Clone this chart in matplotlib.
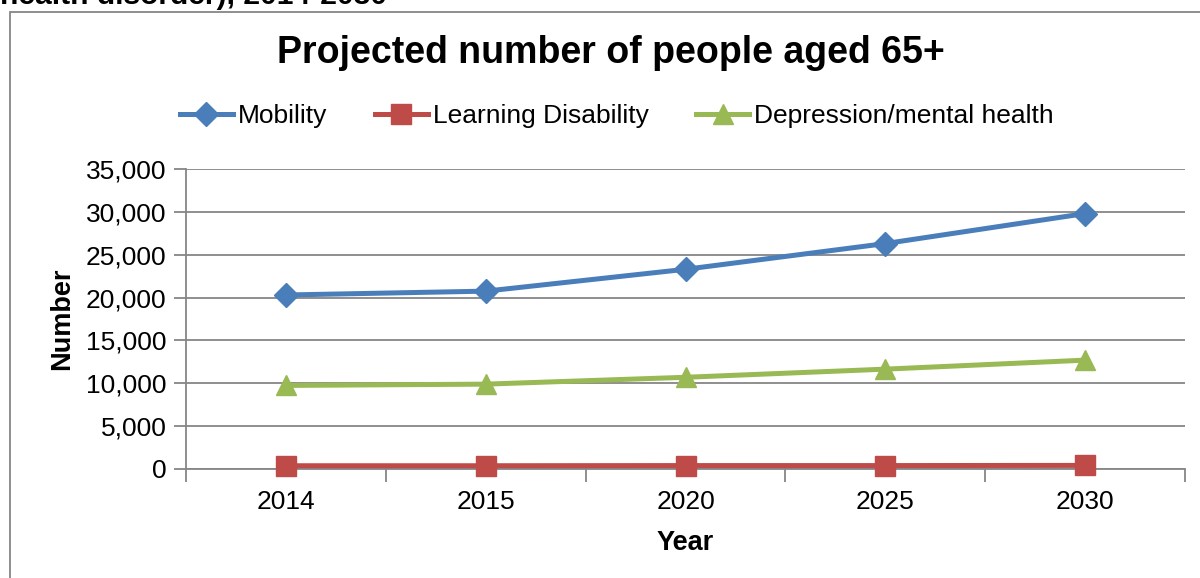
import matplotlib
matplotlib.use("Agg")
import matplotlib.pyplot as plt
from matplotlib.patches import Rectangle
from matplotlib.ticker import FuncFormatter, FixedLocator

plt.rcParams['font.family'] = ['Liberation Sans', 'DejaVu Sans']

years = ["2014", "2015", "2020", "2025", "2030"]
mobility = [20300, 20750, 23300, 26300, 29800]
learning = [380, 380, 400, 400, 420]
depression = [9750, 9900, 10700, 11650, 12700]

W, H = 1200, 578
fig = plt.figure(figsize=(W / 100, H / 100), dpi=100)

# outer chart frame
fig.patches.append(Rectangle((10 / W, 0 - 0.01), 1.2, (H - 12) / H + 0.01,
                             transform=fig.transFigure, fill=False,
                             edgecolor="#868686", linewidth=1.3))

# heading above the chart (cut off at the top edge, as in the source)
fig.text(0 / W, 1 - (-4) / H, "health disorder), 2014-2030", fontsize=21.6,
         fontweight="bold", ha="left", va="center")

ax = fig.add_axes([186 / W, 1 - 469 / H, (1185 - 186) / W, (469 - 169) / H])

x = list(range(len(years)))
ax.plot(x, mobility, color="#4A7EBB", lw=3.6, marker="D", ms=12, label="Mobility", clip_on=False, zorder=3)
ax.plot(x, learning, color="#BE4B48", lw=3.6, marker="s", ms=14, label="Learning Disability", clip_on=False, zorder=3)
ax.plot(x, depression, color="#98B954", lw=3.6, marker="^", ms=14, label="Depression/mental health", clip_on=False, zorder=3)

ax.set_xlim(-0.5, len(years) - 0.5)
ax.set_ylim(0, 35000)
ax.set_yticks(range(0, 35001, 5000))
ax.yaxis.set_major_formatter(FuncFormatter(lambda v, p: f"{int(v):,}"))
ax.grid(axis="y", color="#868686", lw=1.3)
ax.set_axisbelow(True)

ax.set_xticks(x)
ax.set_xticklabels(years)
ax.xaxis.set_minor_locator(FixedLocator([i - 0.5 for i in range(len(years) + 1)]))
ax.tick_params(axis="x", which="major", length=0, pad=15, labelsize=19)
ax.tick_params(axis="x", which="minor", length=9, color="#868686", width=1.3, direction="out")
ax.tick_params(axis="y", length=9, color="#868686", width=1.3, labelsize=19, pad=5)

for s in ["top", "right"]:
    ax.spines[s].set_visible(False)
for s in ["left", "bottom"]:
    ax.spines[s].set_color("#868686")
    ax.spines[s].set_linewidth(1.3)

ax.set_ylabel("Number", fontsize=19.5, fontweight="bold", labelpad=8)
ax.set_xlabel("Year", fontsize=19.5, fontweight="bold", labelpad=12)

fig.text(611 / W, 1 - 53 / H, "Projected number of people aged 65+", fontsize=27,
         fontweight="bold", ha="center", va="center")

leg = fig.legend(loc="center", bbox_to_anchor=(617 / W, 1 - 116 / H), ncol=3,
                 frameon=False, fontsize=19, handlelength=2.0, handletextpad=0.2,
                 columnspacing=1.8)

fig.savefig("out.png", dpi=100)
